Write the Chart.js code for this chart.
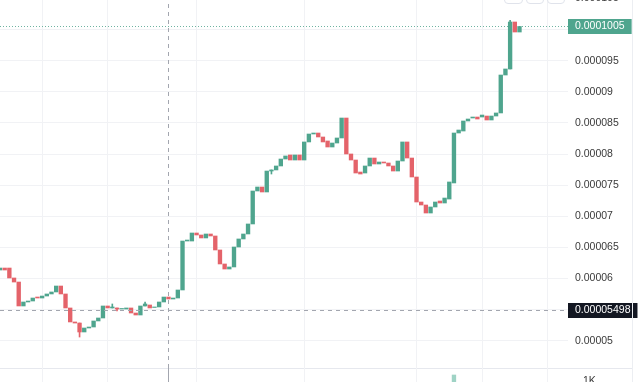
<!DOCTYPE html>
<html><head><meta charset="utf-8">
<script src="https://cdn.jsdelivr.net/npm/chart.js@4.4.0/dist/chart.umd.min.js"></script>
<style>
html,body{margin:0;padding:0;background:#fff;width:640px;height:382px;overflow:hidden;position:relative;font-family:"Liberation Sans",Arial,sans-serif}
#pw{position:absolute;left:0;top:-20px;width:640px;height:402px}
#vw{position:absolute;left:0;top:360px;width:640px;height:50px}
#sep{position:absolute;left:0;top:368px;width:632px;height:1px;background:#e6e8ee}
#rb{position:absolute;left:632px;top:0;width:1px;height:382px;background:#eceef2}
.btn{position:absolute;top:-10px;height:12px;border:1px solid #e0e3eb;border-radius:4px;background:#fff}
</style></head><body>
<div id="pw"><canvas id="pc"></canvas></div>
<div id="sep"></div>
<div id="vw"><canvas id="vc"></canvas></div>
<div id="rb"></div>
<div class="btn" style="left:504px;width:17px"></div>
<div class="btn" style="left:526px;width:16px"></div>
<div class="btn" style="left:547px;width:16px"></div>
<script>
// ---- data ----
const opens = [
0.00006136,0.00006168,0.00006168,0.00006008,0.00005943,0.00005558,0.00005622,0.00005638,0.00005702,0.00005686,
0.00005718,0.00005751,0.00005783,0.00005879,0.00005751,0.00005526,0.00005301,0.00005284,0.00005140,0.00005204,
0.00005220,0.00005317,0.00005365,0.00005558,0.00005526,0.00005526,0.00005509,0.00005509,0.00005526,0.00005445,
0.00005413,0.00005558,0.00005574,0.00005534,0.00005542,0.00005622,0.00005702,0.00005670,0.00005686,0.00005815,
0.00006602,0.00006602,0.00006731,0.00006699,0.00006651,0.00006715,0.00006683,0.00006458,0.00006233,0.00006152,
0.00006185,0.00006506,0.00006635,0.00006715,0.00006876,0.00007406,0.00007470,0.00007390,0.00007727,0.00007744,
0.00007808,0.00007920,0.00007985,0.00007904,0.00007985,0.00007904,0.00008194,0.00008322,0.00008338,0.00008274,
0.00008210,0.00008113,0.00008177,0.00008258,0.00008579,0.00008001,0.00007904,0.00007711,0.00007695,0.00007808,
0.00007936,0.00007840,0.00007872,0.00007856,0.00007808,0.00007727,0.00007888,0.00008194,0.00007936,0.00007631,
0.00007229,0.00007181,0.00007052,0.00007149,0.00007245,0.00007213,0.00007277,0.00007535,0.00008338,0.00008370,
0.00008531,0.00008579,0.00008595,0.00008595,0.00008611,0.00008547,0.00008611,0.00008660,0.00009270,0.00009367,
0.00010122,0.00009961];
const closes = [
0.00006168,0.00006136,0.00006008,0.00005943,0.00005558,0.00005622,0.00005638,0.00005686,0.00005686,0.00005718,
0.00005751,0.00005783,0.00005879,0.00005751,0.00005526,0.00005301,0.00005284,0.00005140,0.00005204,0.00005220,
0.00005317,0.00005365,0.00005558,0.00005526,0.00005542,0.00005509,0.00005518,0.00005526,0.00005445,0.00005413,
0.00005558,0.00005590,0.00005526,0.00005542,0.00005622,0.00005702,0.00005670,0.00005686,0.00005815,0.00006602,
0.00006618,0.00006731,0.00006699,0.00006651,0.00006715,0.00006683,0.00006458,0.00006233,0.00006152,0.00006185,
0.00006506,0.00006635,0.00006715,0.00006876,0.00007406,0.00007470,0.00007390,0.00007727,0.00007744,0.00007808,
0.00007920,0.00007969,0.00007904,0.00007985,0.00007904,0.00008194,0.00008322,0.00008338,0.00008274,0.00008194,
0.00008113,0.00008177,0.00008258,0.00008579,0.00008001,0.00007904,0.00007695,0.00007679,0.00007808,0.00007936,
0.00007840,0.00007872,0.00007856,0.00007808,0.00007727,0.00007888,0.00008194,0.00007936,0.00007631,0.00007229,
0.00007181,0.00007052,0.00007149,0.00007229,0.00007213,0.00007293,0.00007551,0.00008338,0.00008386,0.00008531,
0.00008563,0.00008595,0.00008563,0.00008627,0.00008547,0.00008611,0.00008660,0.00009270,0.00009367,0.00010122,
0.00009961,0.00010050];
// visible wicks: [candle, low, high]
const wicks = [
[18,0.00005059,0.00005284],[25,0.00005526,0.00005590],[26,0.00005477,0.00005526],
[32,0.00005558,0.00005622],[59,0.00007679,0.00007744],[110,0.00009367,0.00010147]];
const volumeBars = [[98,1207]];
const yTicks = [0.00005,0.000055,0.00006,0.000065,0.00007,0.000075,0.00008,0.000085,0.00009,0.000095,0.0001,0.000105];
const xGridAt = [10,24,43,66,90,104,118];
const volTicks = [1000];
const lastPrice = 0.0001005;
const crossPrice = 0.00005498;
const crossCandle = 37;

// ---- style ----
const UP = '#4fa58e', DOWN = '#e4636a';
const FONT = '"Liberation Sans", Arial, sans-serif';
const GRID = '#f1f2f5';
const xMin = 1, xMax = 1 + 568/4.68;
const yMin = 0.000045612, yMax = 0.000106685;

const candleData = opens.map((o,i)=>({x:i+1, y:[o, closes[i]]}));
const candleColors = opens.map((o,i)=> closes[i] >= o ? UP : DOWN);
const wickData = wicks.map(w=>({x:w[0], y:[w[1], w[2]]}));
const wickColors = wicks.map(w=> closes[w[0]-1] >= opens[w[0]-1] ? UP : DOWN);
const fmt = v => parseFloat(Number(v).toPrecision(6)).toString();

const overlay = {
  id:'overlay',
  beforeDatasetsDraw(chart){
    const {ctx, chartArea:a, scales:{y}} = chart;
    const py = y.getPixelForValue(lastPrice);
    ctx.save();
    ctx.strokeStyle = '#6fb3a1'; ctx.lineWidth = 1; ctx.setLineDash([1,2]);
    ctx.beginPath(); ctx.moveTo(a.left, Math.round(py)+0.5); ctx.lineTo(a.right, Math.round(py)+0.5); ctx.stroke();
    ctx.restore();
  },
  afterDatasetsDraw(chart){
    const {ctx, chartArea:a, scales:{x,y}} = chart;
    ctx.save();
    ctx.strokeStyle = '#a3a6af'; ctx.lineWidth = 1; ctx.setLineDash([4,4]);
    const cy = Math.round(y.getPixelForValue(crossPrice))+0.5;
    ctx.beginPath(); ctx.moveTo(a.left, cy); ctx.lineTo(a.right, cy); ctx.stroke();
    const cx = Math.round(x.getPixelForValue(crossCandle))+0.5;
    ctx.beginPath(); ctx.moveTo(cx, a.top); ctx.lineTo(cx, chart.height); ctx.stroke();
    ctx.restore();
  },
  afterDraw(chart){
    const {ctx, chartArea:a, scales:{y}} = chart;
    ctx.save();
    ctx.font = '10.5px ' + FONT;
    ctx.textBaseline = 'middle';
    [[lastPrice, UP],[crossPrice, '#131722']].forEach(([p,c])=>{
      const py = y.getPixelForValue(p);
      const t = p.toString();
      const w = ctx.measureText(t).width + 14;
      ctx.fillStyle = c;
      ctx.fillRect(a.right, Math.round(py)-7, w, 15);
      ctx.fillStyle = '#ffffff';
      ctx.fillText(t, a.right+7, Math.round(py)+0.5);
    });
    ctx.restore();
  }
};

const xScaleOpts = () => ({type:'linear', min:xMin, max:xMax, offset:false,
  afterBuildTicks(s){ s.ticks = xGridAt.map(v=>({value:v})); },
  afterFit(s){ s.height = 0; s.paddingLeft = 0; s.paddingRight = 0; },
  ticks:{display:false}, grid:{color:GRID, drawTicks:false, offset:false}, border:{display:false}});

new Chart(document.getElementById('pc'), {
  type:'bar',
  data:{datasets:[
    {data:wickData, backgroundColor:wickColors, barThickness:1, grouped:false, borderWidth:0},
    {data:candleData, backgroundColor:candleColors, barThickness:3.7, grouped:false, borderWidth:0}
  ]},
  options:{
    responsive:true, maintainAspectRatio:false, animation:false, devicePixelRatio:1,
    layout:{padding:{top:8,bottom:14,left:0,right:0}},
    plugins:{legend:{display:false}, tooltip:{enabled:false}},
    scales:{
      x:xScaleOpts(),
      y:{position:'right', min:yMin, max:yMax,
         afterBuildTicks(s){ s.ticks = yTicks.map(v=>({value:v})); },
         afterFit(s){ s.width = 72; s.paddingTop = 0; s.paddingBottom = 0; },
         grid:{color:GRID, drawTicks:false}, border:{display:false},
         ticks:{padding:7, color:'#3a3a3a', font:{size:10.5, family:FONT}, callback:v=>fmt(v)}}
    }
  },
  plugins:[overlay]
});

const volOverlay = {
  id:'volOverlay',
  afterDatasetsDraw(chart){
    const {ctx, chartArea:a, scales:{x}} = chart;
    ctx.save();
    ctx.strokeStyle = '#a3a6af'; ctx.lineWidth = 1; ctx.setLineDash([4,4]);
    const cx = Math.round(x.getPixelForValue(crossCandle))+0.5;
    ctx.beginPath(); ctx.moveTo(cx, a.top); ctx.lineTo(cx, a.bottom); ctx.stroke();
    ctx.restore();
  }
};

new Chart(document.getElementById('vc'), {
  type:'bar',
  data:{datasets:[{data:volumeBars.map(v=>({x:v[0], y:v[1]})), backgroundColor:'#9fd3c5', barThickness:3.7, borderWidth:0}]},
  options:{
    responsive:true, maintainAspectRatio:false, animation:false, devicePixelRatio:1,
    layout:{padding:{top:8,bottom:0,left:0,right:0}},
    plugins:{legend:{display:false}, tooltip:{enabled:false}},
    scales:{
      x:xScaleOpts(),
      y:{position:'right', min:0, max:1448,
         afterBuildTicks(s){ s.ticks = volTicks.map(v=>({value:v})); },
         afterFit(s){ s.width = 72; s.paddingTop = 0; s.paddingBottom = 0; },
         grid:{display:false}, border:{display:false},
         ticks:{padding:7, color:'#3a3a3a', font:{size:10.5, family:FONT}, callback:v=> (v/1000)+'K'}}
    }
  },
  plugins:[volOverlay]
});
</script>
</body></html>
